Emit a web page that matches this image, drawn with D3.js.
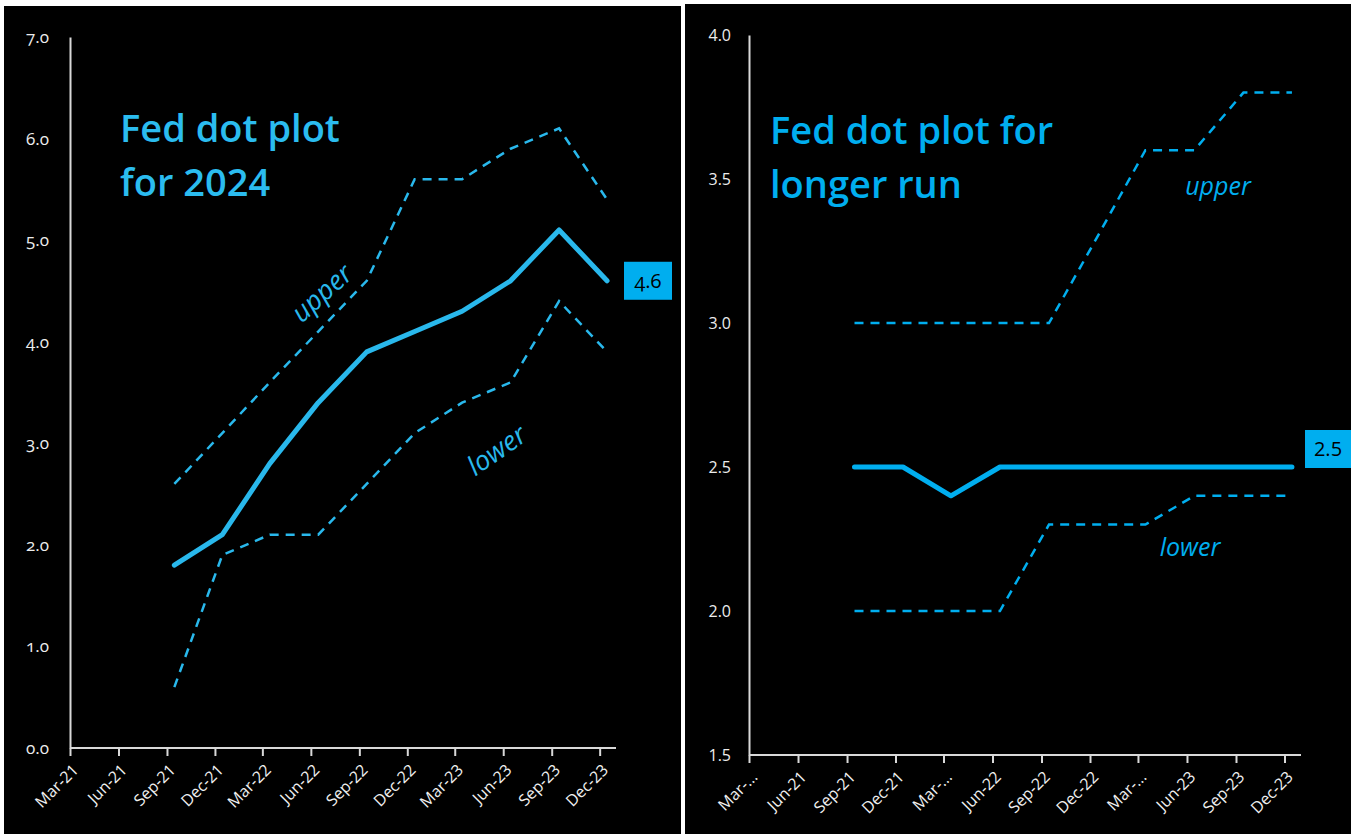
<!DOCTYPE html>
<html>
<head>
<meta charset="utf-8">
<script src="https://cdn.jsdelivr.net/npm/d3@7"></script>
<style>
  html, body { margin: 0; padding: 0; background: #ffffff; }
  svg { display: block; }
  text { font-family: "Open Sans", "Noto Sans", sans-serif; }
</style>
</head>
<body>
<svg id="chart" width="1359" height="834"></svg>
<script>
// ---------- DATA ----------
const dates = ["2021-09-15","2021-12-15","2022-03-15","2022-06-15","2022-09-15",
               "2022-12-15","2023-03-15","2023-06-15","2023-09-15","2023-12-15"];

// 2024 dot plot (left)
const median2024 = [1.8, 2.1, 2.8, 3.4, 3.9, 4.1, 4.3, 4.6, 5.1, 4.6];
const upper2024  = [2.6, 3.1, 3.6, 4.1, 4.6, 5.6, 5.6, 5.9, 6.1, 5.4];
const lower2024  = [0.6, 1.9, 2.1, 2.1, 2.6, 3.1, 3.4, 3.6, 4.4, 3.9];

// Longer run dot plot (right)
const medianLR = [2.5, 2.5, 2.4, 2.5, 2.5, 2.5, 2.5, 2.5, 2.5, 2.5];
const upperLR  = [3.0, 3.0, 3.0, 3.0, 3.0, 3.3, 3.6, 3.6, 3.8, 3.8];
const lowerLR  = [2.0, 2.0, 2.0, 2.0, 2.3, 2.3, 2.3, 2.4, 2.4, 2.4];

// Axis tick labels
const tickDates = ["2021-03-01","2021-06-01","2021-09-01","2021-12-01","2022-03-01","2022-06-01",
                   "2022-09-01","2022-12-01","2023-03-01","2023-06-01","2023-09-01","2023-12-01"];
const leftXLabels  = ["Mar-21","Jun-21","Sep-21","Dec-21","Mar-22","Jun-22",
                      "Sep-22","Dec-22","Mar-23","Jun-23","Sep-23","Dec-23"];
const rightXLabels = ["Mar-...","Jun-21","Sep-21","Dec-21","Mar-...","Jun-22",
                      "Sep-22","Dec-22","Mar-...","Jun-23","Sep-23","Dec-23"];
const leftYTicks  = [0, 1, 2, 3, 4, 5, 6, 7];
const rightYTicks = [1.5, 2.0, 2.5, 3.0, 3.5, 4.0];

// ---------- DRAW ----------
const parse = d3.timeParse("%Y-%m-%d");
const svg = d3.select("#chart");
const axisDomain = [parse("2021-03-01"), parse("2024-01-01")];

function panel(opts) {
  const g = svg.append("g");
  g.append("rect").attr("x", opts.px).attr("y", opts.py)
    .attr("width", opts.pw).attr("height", opts.ph).attr("fill", "#000");

  const x = d3.scaleTime().domain(axisDomain).range([opts.x0, opts.x1]);
  const y = d3.scaleLinear().domain(opts.ydom).range([opts.y0, opts.y1]);

  // y axis
  const ya = d3.axisLeft(y).tickValues(opts.yticks).tickFormat(d3.format(".1f")).tickSize(0);
  const yg = g.append("g").attr("transform", `translate(${opts.x0},0)`).call(ya);
  yg.select(".domain").attr("stroke", "#d9d9d9").attr("stroke-width", 2);
  yg.selectAll("text").attr("fill", "#ececec").attr("font-size", opts.yFont)
    .attr("font-family", opts.tickFont).attr("x", -opts.ylabOff)
    .style("font-variant-numeric", opts.oldstyle ? "oldstyle-nums" : "normal");

  // x axis
  const td = tickDates.map(parse);
  const xa = d3.axisBottom(x).tickValues(td).tickSize(8)
    .tickFormat((d, i) => opts.xlabels[i]);
  const xg = g.append("g").attr("transform", `translate(0,${opts.y0})`).call(xa);
  xg.select(".domain").attr("stroke", "#d9d9d9").attr("stroke-width", 2)
    .attr("d", `M${opts.x0},0H${opts.x1}`);
  xg.selectAll(".tick line").attr("stroke", "#d9d9d9").attr("stroke-width", 2);
  xg.selectAll("text").attr("fill", "#f0f0f0").attr("font-size", 16)
    .attr("font-family", "'Open Sans', sans-serif")
    .attr("text-anchor", "end").attr("y", 0).attr("dy", 0)
    .attr("transform", "translate(9,23) rotate(-45)");

  const pts = v => v.map((d, i) => [x(parse(dates[i])), y(d)]);
  const line = d3.line();

  g.append("path").attr("d", line(pts(opts.upper))).attr("fill", "none")
    .attr("stroke", opts.color).attr("stroke-width", 2.5).attr("stroke-dasharray", "9,7");
  g.append("path").attr("d", line(pts(opts.lower))).attr("fill", "none")
    .attr("stroke", opts.color).attr("stroke-width", 2.5).attr("stroke-dasharray", "9,7");
  g.append("path").attr("d", line(pts(opts.median))).attr("fill", "none")
    .attr("stroke", opts.color).attr("stroke-width", 5)
    .attr("stroke-linecap", "round").attr("stroke-linejoin", "round");

  // value label box
  const last = opts.median[opts.median.length - 1];
  const ly = y(last);
  g.append("rect").attr("x", opts.boxX).attr("y", ly - opts.boxDy)
    .attr("width", opts.boxW).attr("height", 38).attr("fill", "#00aeef");
  g.append("text").attr("x", opts.boxX + opts.boxW / 2).attr("y", ly - opts.boxDy + 26)
    .attr("text-anchor", "middle").attr("font-size", 20).attr("fill", "#000")
    .attr("font-family", opts.tickFont)
    .style("font-variant-numeric", opts.oldstyle ? "oldstyle-nums" : "normal")
    .text(d3.format(".1f")(last));

  // title
  const t = g.append("text").attr("fill", opts.titleColor).attr("font-size", 38)
    .attr("font-weight", 600);
  opts.title.forEach((s, i) => t.append("tspan").attr("x", opts.tx).attr("y", opts.ty + i * 54).text(s));

  return { g, x, y };
}

const L = panel({
  px: 4, py: 6, pw: 677, ph: 828,
  x0: 70, x1: 616, y0: 748, y1: 37, ydom: [0, 7],
  yticks: leftYTicks, xlabels: leftXLabels, ylabOff: 21, yFont: 17,
  tickFont: "Lato, 'Open Sans', sans-serif", oldstyle: true,
  upper: upper2024, lower: lower2024, median: median2024,
  color: "#29b8ec", titleColor: "#2bbcef",
  boxX: 624, boxW: 48, boxDy: 19,
  title: ["Fed dot plot", "for 2024"], tx: 120, ty: 142
});
L.g.append("text").attr("transform", "translate(328,300) rotate(-42)")
  .attr("text-anchor", "middle").attr("font-size", 27).attr("font-style", "italic")
  .attr("fill", "#29b8ec").text("upper");
L.g.append("text").attr("transform", "translate(502,458) rotate(-35)")
  .attr("text-anchor", "middle").attr("font-size", 27).attr("font-style", "italic")
  .attr("fill", "#29b8ec").text("lower");

const R = panel({
  px: 685, py: 4, pw: 666, ph: 830,
  x0: 749, x1: 1301, y0: 755, y1: 35, ydom: [1.5, 4.0],
  yticks: rightYTicks, xlabels: rightXLabels, ylabOff: 18, yFont: 16,
  tickFont: "'Open Sans', sans-serif", oldstyle: false,
  upper: upperLR, lower: lowerLR, median: medianLR,
  color: "#00aeef", titleColor: "#00aeef",
  boxX: 1305, boxW: 46, boxDy: 37,
  title: ["Fed dot plot for", "longer run"], tx: 770, ty: 144
});
R.g.append("text").attr("x", 1218).attr("y", 195)
  .attr("text-anchor", "middle").attr("font-size", 25).attr("font-style", "italic")
  .attr("fill", "#00aeef").text("upper");
R.g.append("text").attr("x", 1190).attr("y", 556)
  .attr("text-anchor", "middle").attr("font-size", 25).attr("font-style", "italic")
  .attr("fill", "#00aeef").text("lower");
</script>
</body>
</html>
